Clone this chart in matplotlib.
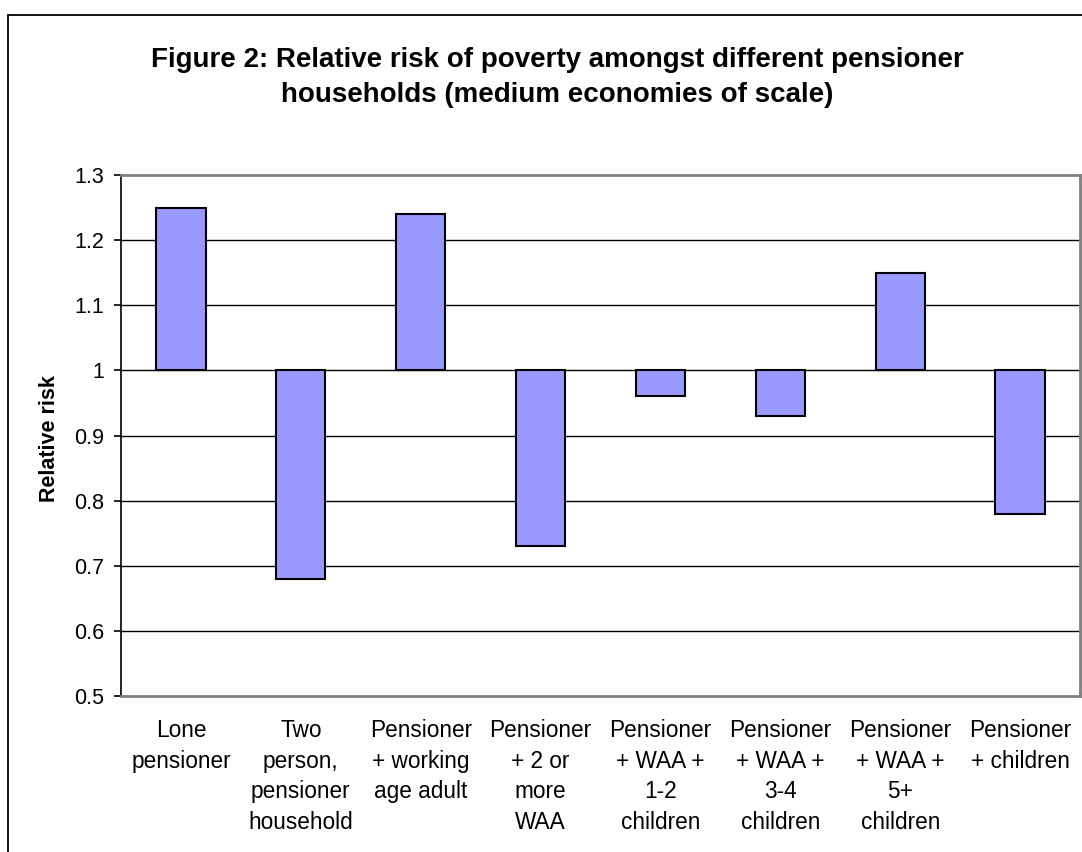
import matplotlib
matplotlib.use("Agg")
import matplotlib.pyplot as plt
from matplotlib.patches import Rectangle

plt.rcParams['font.family'] = ['Liberation Sans', 'DejaVu Sans']

# -------------------------
# DATA
# -------------------------
categorias = [
    "Lone\npensioner",
    "Two\nperson,\npensioner\nhousehold",
    "Pensioner\n+ working\nage adult",
    "Pensioner\n+ 2 or\nmore\nWAA",
    "Pensioner\n+ WAA +\n1-2\nchildren",
    "Pensioner\n+ WAA +\n3-4\nchildren",
    "Pensioner\n+ WAA +\n5+\nchildren",
    "Pensioner\n+ children",
]
riesgo = [1.25, 0.68, 1.24, 0.73, 0.96, 0.93, 1.15, 0.78]
base = 1.0
yticks = [0.5, 0.6, 0.7, 0.8, 0.9, 1.0, 1.1, 1.2, 1.3]
ytick_labels = ["0.5", "0.6", "0.7", "0.8", "0.9", "1", "1.1", "1.2", "1.3"]

W, H = 1082, 852
fig = plt.figure(figsize=(W / 100, H / 100), dpi=100)

# borde del área del gráfico (se sale por la derecha y abajo)
fig.patches.append(Rectangle((8 / W, -0.2), 1.3, 1 - 15 / H + 0.2,
                             transform=fig.transFigure, fill=False,
                             edgecolor="black", linewidth=1.3))

ax = fig.add_axes([121 / W, 1 - 695.7 / H, (1080 - 121) / W, (695.7 - 175.3) / H])

x = list(range(len(riesgo)))
ax.bar(x, [v - base for v in riesgo], bottom=base, width=0.41,
       color="#9999FF", edgecolor="black", linewidth=1.5, zorder=3)

ax.set_xlim(-0.5, len(riesgo) - 0.5)
ax.set_ylim(0.5, 1.3)
ax.set_yticks(yticks)
ax.set_yticklabels(ytick_labels)
ax.set_xticks(x)
ax.set_xticklabels(categorias, linespacing=1.42)

for y in yticks[1:-1]:
    ax.axhline(y, color="black", linewidth=1.0, zorder=1)

for s in ["top", "right", "bottom"]:
    ax.spines[s].set_color("#808080")
    ax.spines[s].set_linewidth(2)
ax.spines["left"].set_color("black")
ax.spines["left"].set_linewidth(1.2)

ax.tick_params(axis="y", direction="out", length=5, width=1.2, pad=7,
               labelsize=15.5, colors="black")
ax.tick_params(axis="x", length=0, pad=17, labelsize=16.3)

ax.set_ylabel("Relative risk", fontsize=15.5, fontweight="bold")
ax.yaxis.set_label_coords((60 - 121) / (1080 - 121), 0.495)

fig.text(557 / W, 1 - 66.7 / H,
         "Figure 2: Relative risk of poverty amongst different pensioner",
         ha="center", va="baseline", fontsize=20, fontweight="bold")
fig.text(557 / W, 1 - 101.7 / H,
         "households (medium economies of scale)",
         ha="center", va="baseline", fontsize=20, fontweight="bold")

fig.savefig("out.png", dpi=100)
